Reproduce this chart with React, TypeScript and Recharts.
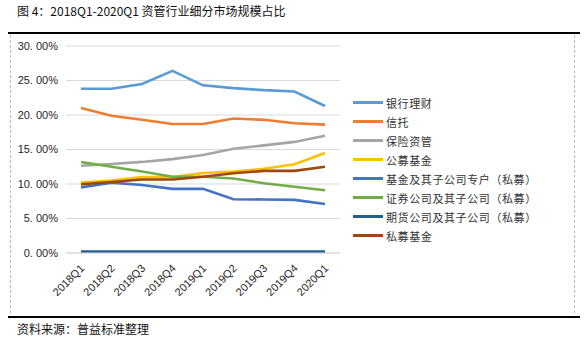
import { CartesianGrid, Line, LineChart, XAxis, YAxis } from "recharts";

const quarters = ["2018Q1", "2018Q2", "2018Q3", "2018Q4", "2019Q1", "2019Q2", "2019Q3", "2019Q4", "2020Q1"];

const bankWealth = [23.8, 23.8, 24.5, 26.4, 24.3, 23.9, 23.6, 23.4, 21.3];
const trust = [21.0, 19.9, 19.3, 18.7, 18.7, 19.5, 19.3, 18.8, 18.6];
const insurance = [12.65, 12.9, 13.2, 13.6, 14.2, 15.1, 15.6, 16.1, 17.0];
const publicFunds = [10.2, 10.5, 11.0, 11.0, 11.6, 11.8, 12.2, 12.85, 14.5];
const fundSubsidiaries = [9.5, 10.2, 9.85, 9.3, 9.3, 7.8, 7.75, 7.7, 7.1];
const securities = [13.2, 12.5, 11.8, 11.05, 11.05, 10.8, 10.1, 9.6, 9.1];
const futures = [0.2, 0.2, 0.2, 0.2, 0.2, 0.2, 0.2, 0.2, 0.2];
const privateFunds = [9.95, 10.3, 10.65, 10.65, 11.05, 11.55, 11.9, 11.9, 12.5];

const yTicks = [0, 5, 10, 15, 20, 25, 30];

const series = [
  { key: "bank", name: "银行理财", values: bankWealth, color: "#5B9BD5" },
  { key: "trust", name: "信托", values: trust, color: "#ED7D31" },
  { key: "ins", name: "保险资管", values: insurance, color: "#A5A5A5" },
  { key: "pub", name: "公募基金", values: publicFunds, color: "#FFC000" },
  { key: "fund", name: "基金及其子公司专户（私募）", values: fundSubsidiaries, color: "#4472C4" },
  { key: "sec", name: "证券公司及其子公司（私募）", values: securities, color: "#70AD47" },
  { key: "fut", name: "期货公司及其子公司（私募）", values: futures, color: "#255E91" },
  { key: "pri", name: "私募基金", values: privateFunds, color: "#9E480E" },
];

const data = quarters.map((q, i) => {
  const row: Record<string, string | number> = { q };
  series.forEach((s) => (row[s.key] = s.values[i]));
  return row;
});

const cjk = '"Noto Sans CJK SC", sans-serif';
const latin = '"Liberation Sans", Arial, sans-serif';

function fmtPct(v: number) {
  const [a, b] = v.toFixed(2).split(".");
  return `${a}. ${b}%`;
}

function XTick(props: any) {
  const { x, y, payload } = props;
  return (
    <g transform={`translate(${x + 4},${y + 8})`}>
      <text
        transform="rotate(-45)"
        textAnchor="end"
        fontSize={11}
        fontFamily={latin}
        fill="#262626"
      >
        {payload.value}
      </text>
    </g>
  );
}

function LegendBox() {
  return (
    <div style={{ fontFamily: cjk, fontSize: 11, color: "#333", letterSpacing: 0.6 }}>
      {series.map((s) => (
        <div key={s.key} style={{ display: "flex", alignItems: "center", height: 19 }}>
          <span style={{ width: 30, height: 3, background: s.color, marginRight: 3 }} />
          <span>{s.name}</span>
        </div>
      ))}
    </div>
  );
}

export default function App() {
  return (
    <div
      style={{
        position: "fixed",
        left: 0,
        top: 0,
        width: 587,
        height: 342,
        background: "#fff",
        fontFamily: cjk,
      }}
    >
      <div style={{ position: "absolute", left: 17, top: 2, fontSize: 12, color: "#111" }}>
        图 4：2018Q1-2020Q1 资管行业细分市场规模占比
      </div>
      <div style={{ position: "absolute", left: 8, top: 32, width: 572, height: 2, background: "#000" }} />
      <div
        style={{
          position: "absolute",
          left: 10,
          top: 35,
          width: 565,
          height: 278,
          borderLeft: "1px dashed #bbb",
          borderRight: "1px dashed #bbb",
          boxSizing: "border-box",
        }}
      />
      <div style={{ position: "absolute", left: 10, top: 35 }}>
        <LineChart width={565} height={278} data={data} margin={{ top: 11, right: 235, left: 0, bottom: 0 }}>
          <CartesianGrid vertical={false} stroke="#D9D9D9" />
          <XAxis
            dataKey="q"
            height={60}
            tick={<XTick />}
            tickLine={false}
            axisLine={{ stroke: "#D9D9D9" }}
            interval={0}
            padding={{ left: 15, right: 15 }}
          />
          <YAxis
            domain={[0, 30]}
            ticks={yTicks}
            width={56}
            tickLine={false}
            axisLine={false}
            tickFormatter={fmtPct}
            tick={{ fontSize: 11, fill: "#262626", fontFamily: latin }}
          />
          {series.map((s) => (
            <Line
              key={s.key}
              dataKey={s.key}
              name={s.name}
              stroke={s.color}
              strokeWidth={2.6}
              dot={false}
              isAnimationActive={false}
            />
          ))}
        </LineChart>
      </div>
      <div style={{ position: "absolute", left: 353, top: 93 }}>
        <LegendBox />
      </div>
      <div style={{ position: "absolute", left: 8, top: 316, width: 572, height: 2, background: "#000" }} />
      <div style={{ position: "absolute", left: 17, top: 320, fontSize: 12, color: "#111" }}>
        资料来源：普益标准整理
      </div>
    </div>
  );
}
